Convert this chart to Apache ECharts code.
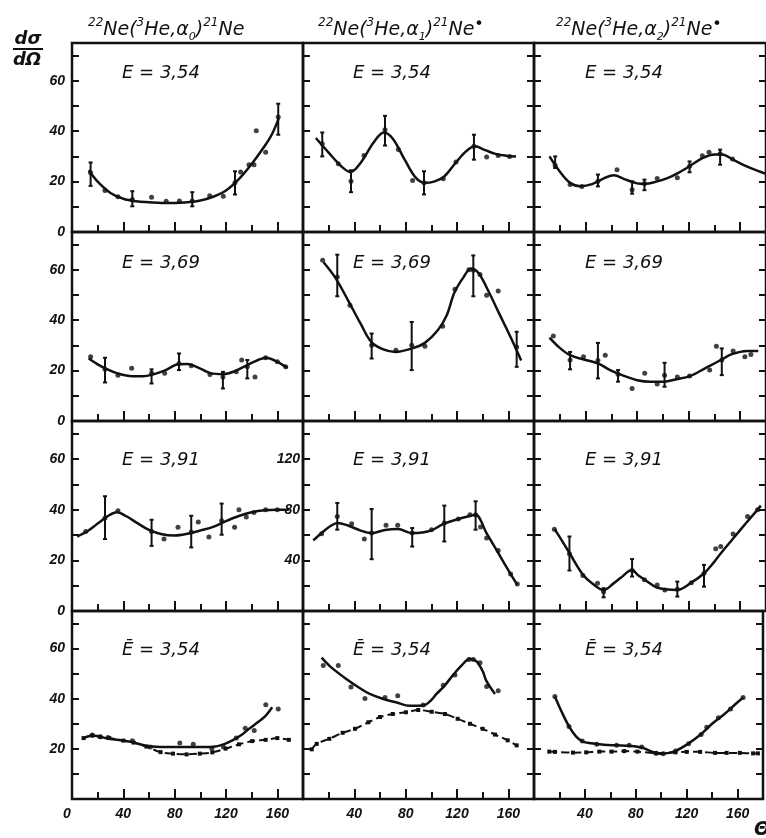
<!DOCTYPE html>
<html>
<head>
<meta charset="utf-8">
<style>
  html, body { margin: 0; padding: 0; background: #fff; }
  #chart { width: 766px; height: 838px; }
</style>
<script src="https://cdn.jsdelivr.net/npm/echarts/dist/echarts.min.js"></script>
</head>
<body>
<div id="chart"></div>
<script>
// Angular distributions dσ/dΩ(θ) for 22Ne(3He,α)21Ne, three final states, three energies + average.
// Each panel: [angle, value] points, fitted curve, error bars [angle, low, high].

// ---- column headings / energy labels / tick labels ----
const alphaIndex = ['0', '1', '2'];
const excitedMark = ['', '•', '•'];
const energyLabels = ['E = 3,54', 'E = 3,69', 'E = 3,91', 'Ē = 3,54'];
const angleTicks = [0, 40, 80, 120, 160];
const yTicks = [0, 20, 40, 60];
const yTicksWide = [40, 80, 120];

// ---- E = 3.54 ----
const a0_E354_curve = [[13,24.5],[20,20],[30,15.5],[40,13.2],[50,12.2],[60,11.8],[70,11.5],[80,11.5],[90,11.8],[100,12.5],[110,14],[120,16.5],[130,21],[140,27],[150,34],[156,39],[161,45]];
const a0_E354_pts = [[14.5,23.5],[25.7,16.5],[35.8,14.0],[47,12.9],[62,13.8],[73.4,12.2],[83.7,12.3],[93.7,12.3],[107.3,14.4],[117.9,14.2],[127,19.5],[131.4,23.8],[137.9,26.7],[141.8,26.7],[143.6,40.2],[150.9,31.6],[160.7,45.6]];
const a0_E354_err = [[14.5,18.3,27.6],[47,10.2,16.2],[93.7,10.2,15.8],[127,14.9,24.1],[160.7,38.6,50.9]];

const a1_E354_curve = [[10,37.3],[20,31.5],[30,26],[37,23.8],[45,27.5],[55,35.5],[63,39.5],[70,37],[80,28],[88,21.5],[95,19.5],[102,20],[110,22],[119,27.5],[127,32],[134,34],[142,32.5],[150,31],[158,30.3],[166,30]];
const a1_E354_pts = [[15,35],[27.5,27.1],[37.4,20.1],[47.5,30.4],[63.9,40.6],[74.3,32.7],[85.4,20.4],[94.3,19.5],[109.3,21.1],[119.2,27.8],[133.2,34.0],[143.1,29.8],[152.1,30.4],[161,30]];
const a1_E354_err = [[15,30,39.5],[37.4,15.8,24.5],[63.9,34.3,46.1],[94.3,14.9,24.1],[133.2,28.7,38.6]];

const a2_E354_curve = [[12,30],[20,24],[28,19.5],[36,18.2],[45,19],[55,21.5],[62,22.5],[70,21],[80,19.3],[86,19.1],[95,20],[104,21.5],[112,23.5],[121,26.2],[131,29.4],[140,30.8],[146,30.8],[155,28.5],[165,26],[175,24],[180,23.1]];
const a2_E354_pts = [[16.4,26.5],[28,18.8],[37.1,18.1],[49.6,20.1],[64.4,24.7],[76.1,16.8],[85.7,19.1],[95.6,21.2],[111.2,21.5],[120.7,26.1],[130.6,30.3],[135.8,31.6],[144.4,31.1],[154,29]];
const a2_E354_err = [[16.4,25.4,30],[49.6,18.1,22.8],[76.1,15.2,20.1],[85.7,16.6,20.8],[120.7,23.7,28],[144.4,26.7,32.7]];

// ---- E = 3.69 ----
const a0_E369_curve = [[13,24.8],[20,22.5],[26,20.9],[35,19],[47,17.8],[55,17.8],[62,18.3],[72,20],[83,22.5],[90,22.6],[100,20.8],[108,19],[118,18.6],[127,19.8],[137,22.3],[145,24.2],[151,25.1],[160,23.5],[168,21]];
const a0_E369_pts = [[14.5,25.5],[25.7,20.5],[35.8,18.2],[46.5,20.9],[62,18.9],[72.2,18.9],[83.4,22.8],[93,21.9],[107.5,18.5],[117.6,17.5],[128,19.5],[132.2,24.2],[136.6,21.5],[142.6,17.5],[150.9,25.1],[160,23.5],[166.5,21.5]];
const a0_E369_err = [[25.7,15.3,25.1],[62,14.9,20.5],[83.4,20.2,26.8],[117.6,12.9,19.5],[136.6,16.9,24.2]];

const a1_E369_curve = [[16,63],[25,57],[35,48],[45,38.5],[53,31.5],[62,28.5],[72,27.4],[85,28.8],[95,31],[105,36],[112,42],[118,51],[125,57],[131,60.5],[137,58.5],[145,51],[153,42.5],[162,33],[170,24]];
const a1_E369_pts = [[15.3,63.8],[26.7,57.1],[36.6,45.9],[53.5,30.1],[72.4,28.1],[84.7,30.1],[95,29.7],[108.8,37.6],[118.4,52.3],[129.3,60],[132.7,59.8],[137.9,58.1],[143.1,49.9],[152.1,51.6],[166.5,29.4]];
const a1_E369_err = [[26.7,49.5,66],[53.5,24.8,34.7],[84.7,20.2,39.3],[132.7,49.5,65.7],[166.5,21.5,35.4]];

const a2_E369_curve = [[12,33.1],[20,29],[28,26.1],[38,24.5],[50,22.8],[58,20.5],[65,18.9],[72,17.5],[80,16.2],[90,15.6],[101,15.6],[110,16.5],[121,17.8],[133,21],[145,24.2],[152,26.2],[158,27.2],[166,27.8],[174,27.8]];
const a2_E369_pts = [[15,33.7],[28,24.2],[38.4,25.5],[49.6,24],[55.3,26.1],[65.2,18.6],[76.1,12.9],[85.9,18.9],[95.6,14.7],[101.3,18.2],[111.2,17.5],[120.7,17.9],[136.3,20.2],[141.5,29.7],[145.7,24.2],[154.5,27.8],[163.6,25.5],[168.3,26.4]];
const a2_E369_err = [[28,20.5,27.4],[49.6,16.9,31],[65.2,15.6,20.2],[101.3,13.6,23.1],[145.7,18.2,28.8]];

// ---- E = 3.91 ----
const a0_E391_curve = [[4,29.4],[12,31.5],[20,34.5],[28,37.5],[35,39],[42,37.5],[50,35],[60,32],[70,30.3],[80,29.8],[90,30.5],[100,31.8],[110,33.2],[120,35.5],[130,37.5],[140,39],[150,39.8],[160,40],[169,40]];
const a0_E391_pts = [[10.7,31.4],[25.7,36.7],[35.8,39.6],[62,31.4],[71.7,28.4],[82.6,33.1],[92.9,31.2],[98.4,35.1],[106.7,29.2],[116.6,35.6],[126.7,33.1],[130.1,40],[135.8,37.1],[141.8,38.9],[150.9,40],[160,40]];
const a0_E391_err = [[25.7,28.4,45.3],[62,25.7,36],[92.9,25.1,37.6],[116.6,30.1,42.4]];

const a1_E391_curve = [[8,55.7],[15,62],[22,67.5],[27,69.5],[35,67.5],[45,63.5],[53.5,61.5],[64,64],[74,64.7],[85,61.5],[93,62],[100,63.6],[110,69],[121,72.6],[130,75],[134.5,76],[143,61.5],[152,46],[161,30.5],[167,20.6]];
const a1_E391_pts = [[14.5,61],[26.7,74.7],[37.9,68.9],[47.8,56.8],[53.5,61.5],[64.7,67.6],[73.8,67.6],[85.1,61.5],[100.2,64.2],[110.1,69.5],[121,72.6],[130.1,76],[134.5,76],[138.4,66.3],[143.1,57.6],[152.1,47.8],[161.8,29.3],[167,21.4]];
const a1_E391_err = [[26.7,64.2,85.3],[53.5,40.9,80.5],[85.1,50.9,65.5],[110.1,54.9,83.2],[134.5,64.2,86.6]];

const a2_E391_curve = [[16,32.3],[22,27.5],[28,22.5],[38,14.3],[45,11],[54,8.3],[62,11],[67,13],[76,16.2],[81,14],[86,12.3],[95,9.3],[102,8.6],[111,8.3],[122,11.2],[132,14.9],[140,19.5],[145,22.8],[154.5,28.6],[165.7,35.4],[173.5,40],[176,41.6]];
const a2_E391_pts = [[15.8,32.3],[27.5,22.6],[37.9,14],[49.3,11],[54,7.6],[76.1,16],[85.7,12.3],[95.6,10.3],[101.5,8.3],[111.2,8.6],[122.1,11.2],[131.9,14.9],[141,24.6],[144.9,25.5],[154.5,30.4],[165.7,37.3],[173.5,40]];
const a2_E391_err = [[27.5,16,29.4],[54,5.4,9],[76.1,13.6,20.5],[111.2,5.7,11.6],[131.9,9.6,18.2]];

// ---- energy-averaged, with compound-nucleus estimate (dashed) ----
const a0_Eavg_curve = [[9,24.3],[16,25.3],[29,24],[40,23.3],[47,22.7],[60,21],[73,20.7],[90,20.7],[104,20.7],[110,20.8],[118,21.8],[125,23.4],[132,25.5],[138,28],[145,30.7],[151,33.3],[156,36.6]];
const a0_Eavg_pts = [[15.8,25.5],[22,24.8],[28,24.5],[47,23.2],[61,20.7],[84,22.3],[94.5,21.8],[109,20.1],[118,20.7],[128,24.3],[135,28.2],[142,27.3],[151,37.6],[160.7,35.9]];
const a0_Eavg_cn = [[9,24.3],[15.8,25.3],[22,24.8],[29,24.3],[40,23.3],[48,22.5],[58,20.9],[69,18.7],[78.7,18.1],[89.3,17.8],[99.6,18.1],[109.3,18.6],[119.7,20.1],[130.1,21.8],[140.4,23.1],[150.9,23.6],[160,24.3],[169,23.6]];

const a1_Eavg_curve = [[14.5,56.4],[22,52.5],[34,47.8],[45,44],[52,41.9],[62,40],[73,38.5],[83,37.2],[93.7,37.3],[100,39.5],[104,41.9],[110,45],[117,49.5],[124,53.5],[130,56],[135,55],[140,51],[143,47],[149.6,41.9]];
const a1_Eavg_pts = [[15.8,53.3],[27.5,53.3],[37.4,44.7],[48.3,40.1],[63.9,40.5],[73.8,41.2],[93.7,37.5],[109.3,45.4],[118.4,49.5],[129.3,55.7],[132.7,55.7],[137.9,54.4],[143.1,44.9],[152.1,43.2]];
const a1_Eavg_cn = [[6.8,19.8],[10.7,22],[20.5,24],[30.9,26.4],[40.5,28],[50.9,30.6],[60,32.7],[69.9,33.9],[80.2,34.6],[89.8,35.5],[100.3,34.8],[110.6,33.9],[120.5,32],[130.1,30],[140,28],[149.6,25.7],[159.5,23.4],[166.5,21.4]];

const a2_Eavg_curve = [[16.4,40.9],[22,34.5],[27.5,29],[33,25],[38,23],[45,22.2],[55,21.6],[65,21.4],[75,21.2],[85,20.5],[92,19],[99,18.1],[105,18.3],[111,19.1],[121,22],[131,25.7],[140,30],[150,34],[158,37.7],[164.4,40.5]];
const a2_Eavg_pts = [[16.4,40.9],[27.5,28.9],[37.9,23.1],[49.3,21.8],[64.9,21.4],[74.8,21.4],[84.7,20.7],[96.1,18.3],[101.5,18.1],[111.2,19.1],[121.5,22],[131.4,25.7],[135.8,28.6],[144.9,32.4],[154.5,35.9],[164.4,40.5]];
const a2_Eavg_cn = [[12,18.9],[16.4,18.8],[30.6,18.5],[41,18.6],[51.4,18.9],[61,18.9],[70.9,19.1],[81.3,18.9],[95.6,18.3],[111.2,18.6],[120,18.8],[130.6,18.8],[142.3,18.4],[151.4,18.4],[161.8,18.4],[172.2,18.2],[176,18.2]];

// ---- panel table (row = energy, col = final state) ----
const panels = [
  { row: 0, col: 0, curve: a0_E354_curve, pts: a0_E354_pts, err: a0_E354_err },
  { row: 0, col: 1, curve: a1_E354_curve, pts: a1_E354_pts, err: a1_E354_err },
  { row: 0, col: 2, curve: a2_E354_curve, pts: a2_E354_pts, err: a2_E354_err },
  { row: 1, col: 0, curve: a0_E369_curve, pts: a0_E369_pts, err: a0_E369_err },
  { row: 1, col: 1, curve: a1_E369_curve, pts: a1_E369_pts, err: a1_E369_err },
  { row: 1, col: 2, curve: a2_E369_curve, pts: a2_E369_pts, err: a2_E369_err },
  { row: 2, col: 0, curve: a0_E391_curve, pts: a0_E391_pts, err: a0_E391_err },
  { row: 2, col: 1, curve: a1_E391_curve, pts: a1_E391_pts, err: a1_E391_err, wide: true },
  { row: 2, col: 2, curve: a2_E391_curve, pts: a2_E391_pts, err: a2_E391_err },
  { row: 3, col: 0, curve: a0_Eavg_curve, pts: a0_Eavg_pts, err: [], cn: a0_Eavg_cn },
  { row: 3, col: 1, curve: a1_Eavg_curve, pts: a1_Eavg_pts, err: [], cn: a1_Eavg_cn },
  { row: 3, col: 2, curve: a2_Eavg_curve, pts: a2_Eavg_pts, err: [], cn: a2_Eavg_cn }
];

// ---- layout ----
const INK = '#111';
const colLeft = [72, 303, 534];
const colWidth = [231, 231, 235];
const rowTop = [43, 232, 421, 611];
const rowHeight = [189, 189, 190, 188];
const tickFont = { fontFamily: 'Liberation Sans', fontStyle: 'italic', fontWeight: 'bold', fontSize: 14, color: INK };

const grids = [], xAxes = [], yAxes = [], series = [];

function errorBarItem(params, api) {
  const x = api.value(0);
  const lo = api.coord([x, api.value(1)]);
  const hi = api.coord([x, api.value(2)]);
  const cap = 2;
  const st = { stroke: INK, lineWidth: 2 };
  return {
    type: 'group',
    children: [
      { type: 'line', shape: { x1: lo[0], y1: lo[1], x2: hi[0], y2: hi[1] }, style: st },
      { type: 'line', shape: { x1: lo[0] - cap, y1: lo[1], x2: lo[0] + cap, y2: lo[1] }, style: st },
      { type: 'line', shape: { x1: hi[0] - cap, y1: hi[1], x2: hi[0] + cap, y2: hi[1] }, style: st }
    ]
  };
}

panels.forEach((p, g) => {
  grids.push({
    left: colLeft[p.col], top: rowTop[p.row], width: colWidth[p.col], height: rowHeight[p.row],
    show: true, borderColor: INK, borderWidth: 2.5, backgroundColor: 'transparent'
  });
  const lastRow = p.row === 3;
  const xMinor = xAxes.length;
  xAxes.push({
    gridIndex: g, type: 'value', position: 'bottom', min: 0, max: 180, interval: 20,
    axisLine: { show: false, onZero: false },
    axisTick: { inside: true, length: 7, lineStyle: { color: INK, width: 2 } },
    axisLabel: { show: false }, splitLine: { show: false }
  });
  xAxes.push({
    gridIndex: g, type: 'value', position: 'bottom', min: 0, max: 180, interval: 40,
    axisLine: { show: false, onZero: false },
    axisTick: { inside: true, length: 10, lineStyle: { color: INK, width: 2 } },
    axisLabel: {
      show: lastRow, margin: 8, ...tickFont,
      formatter: v => {
        if (angleTicks.indexOf(v) < 0) return '';
        if (v === 0) return p.col === 0 ? '{z|0}' : '';
        return String(v);
      },
      rich: { z: { ...tickFont, padding: [0, 10, 0, 0] } }
    },
    splitLine: { show: false }
  });

  const yMax = p.wide ? 150 : 75;
  const yInt = p.wide ? 20 : 10;
  const yIdx = yAxes.length;
  const labelShow = p.col === 0 || !!p.wide;
  yAxes.push({
    gridIndex: g, type: 'value', position: 'left', min: 0, max: yMax, interval: yInt,
    axisLine: { show: false, onZero: false },
    axisTick: { inside: true, length: 7, lineStyle: { color: INK, width: 2 } },
    axisLabel: {
      show: labelShow, margin: p.wide ? 3 : 7, ...tickFont,
      formatter: v => {
        if (p.wide) return yTicksWide.indexOf(v) >= 0 ? String(v) : '';
        if (yTicks.indexOf(v) < 0) return '';
        if (v === 0 && lastRow) return '';
        return String(v);
      }
    },
    splitLine: { show: false }
  });
  if (p.col > 0) {
    yAxes.push({
      gridIndex: g, type: 'value', position: 'right', min: 0, max: yMax, interval: yInt,
      axisLine: { show: false, onZero: false },
      axisTick: { inside: true, length: 7, lineStyle: { color: INK, width: 2 } },
      axisLabel: { show: false }, splitLine: { show: false }
    });
  }

  series.push({
    type: 'line', xAxisIndex: xMinor, yAxisIndex: yIdx, data: p.curve,
    smooth: 0.35, showSymbol: false, silent: true,
    lineStyle: { color: INK, width: 2.5 }, z: 3
  });
  if (p.cn) {
    series.push({
      type: 'line', xAxisIndex: xMinor, yAxisIndex: yIdx, data: p.cn,
      smooth: 0.3, symbol: 'rect', symbolSize: 4, showSymbol: true, silent: true,
      itemStyle: { color: INK }, lineStyle: { color: INK, width: 2, type: [8, 4] }, z: 3
    });
  }
  series.push({
    type: 'scatter', xAxisIndex: xMinor, yAxisIndex: yIdx, data: p.pts,
    symbolSize: 5, itemStyle: { color: INK }, silent: true, z: 4
  });
  if (p.err.length) {
    series.push({
      type: 'custom', xAxisIndex: xMinor, yAxisIndex: yIdx, data: p.err,
      renderItem: errorBarItem, encode: { x: 0, y: [1, 2] }, silent: true, z: 4
    });
  }
});

// column headings
const headingLeft = [88, 318, 556];
const headFont = { fontFamily: 'DejaVu Sans', fontStyle: 'italic', fontWeight: 'normal', color: INK };
const titles = alphaIndex.map((a, i) => ({
  left: headingLeft[i], top: 17, padding: 0,
  text: '{sup|22}{n|Ne(}{sup|3}{n|He,α}{sub|' + a + '}{n|)}{sup|21}{n|Ne}' + (excitedMark[i] ? '{dot|' + excitedMark[i] + '}' : ''),
  textStyle: {
    fontWeight: 'normal',
    rich: {
      n: { ...headFont, fontSize: 19, lineHeight: 26, verticalAlign: 'middle' },
      sup: { ...headFont, fontSize: 12, lineHeight: 12, verticalAlign: 'top' },
      sub: { ...headFont, fontSize: 11, lineHeight: 12, verticalAlign: 'bottom' },
      dot: { ...headFont, fontStyle: 'normal', fontSize: 16, lineHeight: 12, verticalAlign: 'top' }
    }
  }
}));

// energy labels inside each panel
const labelLeft = [122, 353, 585];
const labelMidY = [73, 263, 460, 650];
const graphics = [];
panels.forEach(p => {
  graphics.push({
    type: 'text', x: labelLeft[p.col], y: labelMidY[p.row], silent: true,
    style: {
      text: energyLabels[p.row], font: 'italic 18px "DejaVu Sans"', fill: INK,
      align: 'left', verticalAlign: 'middle', textAlign: 'left', textVerticalAlign: 'middle'
    }
  });
});

// ordinate name dσ/dΩ
graphics.push({
  type: 'text', x: 28, y: 39, silent: true,
  style: { text: 'dσ', font: 'italic bold 18px "DejaVu Sans"', fill: INK, align: 'center', verticalAlign: 'middle', textAlign: 'center', textVerticalAlign: 'middle' }
});
graphics.push({
  type: 'line', silent: true, shape: { x1: 13, y1: 49, x2: 43, y2: 49 }, style: { stroke: INK, lineWidth: 2 }
});
graphics.push({
  type: 'text', x: 27, y: 60, silent: true,
  style: { text: 'dΩ', font: 'italic bold 18px "DejaVu Sans"', fill: INK, align: 'center', verticalAlign: 'middle', textAlign: 'center', textVerticalAlign: 'middle' }
});
// abscissa name θ
graphics.push({
  type: 'text', x: 754, y: 830, silent: true,
  style: { text: 'Θ', font: 'italic bold 19px "DejaVu Sans"', fill: INK, align: 'left', verticalAlign: 'middle', textAlign: 'left', textVerticalAlign: 'middle' }
});

const chart = echarts.init(document.getElementById('chart'), null, { renderer: 'canvas' });
chart.setOption({
  backgroundColor: '#fff',
  animation: false,
  title: titles,
  grid: grids,
  xAxis: xAxes,
  yAxis: yAxes,
  series: series,
  graphic: graphics
});
</script>
</body>
</html>
